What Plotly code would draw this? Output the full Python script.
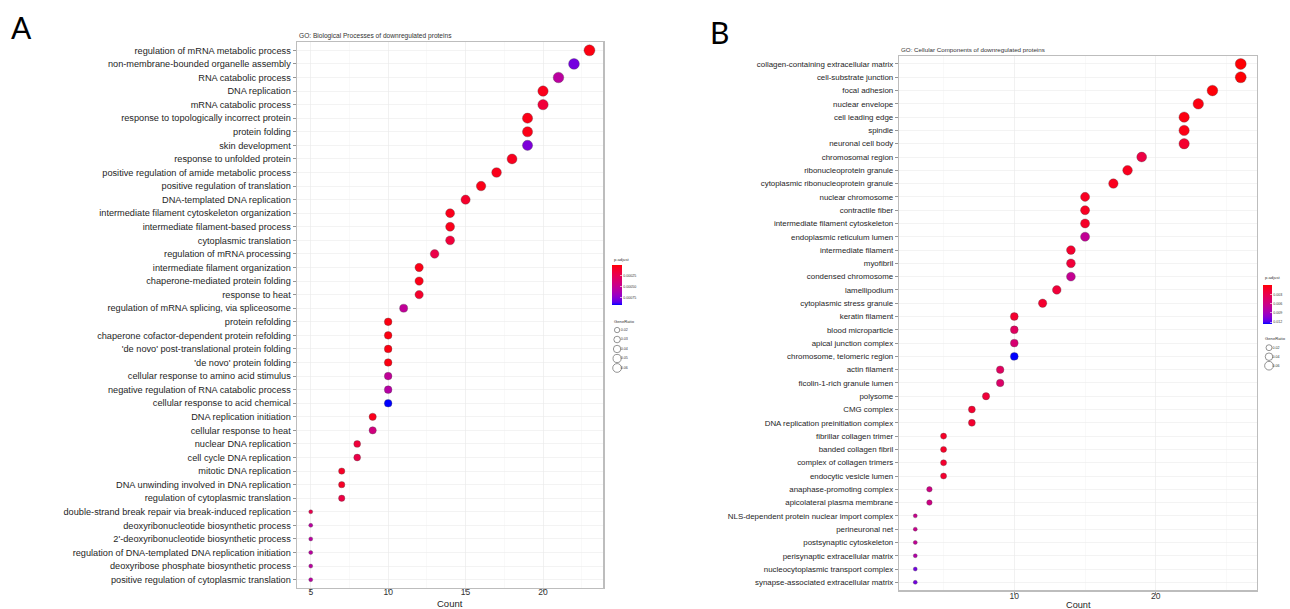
import numpy as np
import plotly.graph_objects as go

# ---------------- data ----------------
bp_terms = [
    "regulation of mRNA metabolic process", "non-membrane-bounded organelle assembly",
    "RNA catabolic process", "DNA replication", "mRNA catabolic process",
    "response to topologically incorrect protein", "protein folding", "skin development",
    "response to unfolded protein", "positive regulation of amide metabolic process",
    "positive regulation of translation", "DNA-templated DNA replication",
    "intermediate filament cytoskeleton organization", "intermediate filament-based process",
    "cytoplasmic translation", "regulation of mRNA processing",
    "intermediate filament organization", "chaperone-mediated protein folding",
    "response to heat", "regulation of mRNA splicing, via spliceosome", "protein refolding",
    "chaperone cofactor-dependent protein refolding", "'de novo' post-translational protein folding",
    "'de novo' protein folding", "cellular response to amino acid stimulus",
    "negative regulation of RNA catabolic process", "cellular response to acid chemical",
    "DNA replication initiation", "cellular response to heat", "nuclear DNA replication",
    "cell cycle DNA replication", "mitotic DNA replication",
    "DNA unwinding involved in DNA replication", "regulation of cytoplasmic translation",
    "double-strand break repair via break-induced replication",
    "deoxyribonucleotide biosynthetic process", "2'-deoxyribonucleotide biosynthetic process",
    "regulation of DNA-templated DNA replication initiation",
    "deoxyribose phosphate biosynthetic process", "positive regulation of cytoplasmic translation",
]
bp_count = [23, 22, 21, 20, 20, 19, 19, 19, 18, 17, 16, 15, 14, 14, 14, 13, 12, 12, 12, 11,
            10, 10, 10, 10, 10, 10, 10, 9, 9, 8, 8, 7, 7, 7, 5, 5, 5, 5, 5, 5]
bp_padj = [0.00003, 0.00080, 0.00055, 0.00005, 0.00015, 0.00004, 0.00004, 0.00078, 0.00006, 0.00005,
           0.00004, 0.00010, 0.00005, 0.00005, 0.00015, 0.00020, 0.00004, 0.00004, 0.00010, 0.00052,
           0.00003, 0.00003, 0.00003, 0.00003, 0.00052, 0.00057, 0.00092, 0.00005, 0.00042, 0.00015,
           0.00020, 0.00008, 0.00008, 0.00018, 0.00022, 0.00055, 0.00055, 0.00055, 0.00055, 0.00055]
bp_total = 380

cc_terms = [
    "collagen-containing extracellular matrix", "cell-substrate junction", "focal adhesion",
    "nuclear envelope", "cell leading edge", "spindle", "neuronal cell body", "chromosomal region",
    "ribonucleoprotein granule", "cytoplasmic ribonucleoprotein granule", "nuclear chromosome",
    "contractile fiber", "intermediate filament cytoskeleton", "endoplasmic reticulum lumen",
    "intermediate filament", "myofibril", "condensed chromosome", "lamellipodium",
    "cytoplasmic stress granule", "keratin filament", "blood microparticle",
    "apical junction complex", "chromosome, telomeric region", "actin filament",
    "ficolin-1-rich granule lumen", "polysome", "CMG complex",
    "DNA replication preinitiation complex", "fibrillar collagen trimer", "banded collagen fibril",
    "complex of collagen trimers", "endocytic vesicle lumen", "anaphase-promoting complex",
    "apicolateral plasma membrane", "NLS-dependent protein nuclear import complex",
    "perineuronal net", "postsynaptic cytoskeleton", "perisynaptic extracellular matrix",
    "nucleocytoplasmic transport complex", "synapse-associated extracellular matrix",
]
cc_count = [26, 26, 24, 23, 22, 22, 22, 19, 18, 17, 15, 15, 15, 15, 14, 14, 14, 13, 12, 10,
            10, 10, 10, 9, 9, 8, 7, 7, 5, 5, 5, 5, 4, 4, 3, 3, 3, 3, 3, 3]
cc_padj = [0.0001, 0.0001, 0.0002, 0.0004, 0.0004, 0.0005, 0.0015, 0.0025, 0.0008, 0.0008,
           0.0010, 0.0010, 0.0012, 0.0070, 0.0015, 0.0020, 0.0068, 0.0020, 0.0015, 0.0015,
           0.0040, 0.0050, 0.0126, 0.0040, 0.0045, 0.0020, 0.0015, 0.0015, 0.0012, 0.0012,
           0.0015, 0.0015, 0.0060, 0.0060, 0.0065, 0.0065, 0.0070, 0.0080, 0.0110, 0.0110]
cc_total = 420

bp_cbar_ticks = [0.00025, 0.00050, 0.00075]
bp_cbar_labels = ["0.00025", "0.00050", "0.00075"]
cc_cbar_ticks = [0.003, 0.006, 0.009, 0.012]
cc_cbar_labels = ["0.003", "0.006", "0.009", "0.012"]
bp_size_breaks = [0.02, 0.03, 0.04, 0.05, 0.06]
cc_size_breaks = [0.02, 0.04, 0.06]

# ---------------- helpers ----------------
W, H = 1290, 609


def px_x(p):
    return p / W


def px_y(p):
    return 1 - p / H


def srgb_to_lab(c):
    c = np.array(c, dtype=float) / 255.0
    lin = np.where(c <= 0.04045, c / 12.92, ((c + 0.055) / 1.055) ** 2.4)
    M = np.array([[0.4124, 0.3576, 0.1805], [0.2126, 0.7152, 0.0722], [0.0193, 0.1192, 0.9505]])
    xyz = M @ lin
    wp = np.array([0.95047, 1.0, 1.08883])
    t = xyz / wp
    f = np.where(t > (6 / 29) ** 3, np.cbrt(t), t / (3 * (6 / 29) ** 2) + 4 / 29)
    return np.array([116 * f[1] - 16, 500 * (f[0] - f[1]), 200 * (f[1] - f[2])])


def lab_to_srgb(lab):
    L, a, b = lab
    fy = (L + 16) / 116
    fx = fy + a / 500
    fz = fy - b / 200
    f = np.array([fx, fy, fz])
    t = np.where(f > 6 / 29, f ** 3, 3 * (6 / 29) ** 2 * (f - 4 / 29))
    xyz = t * np.array([0.95047, 1.0, 1.08883])
    Minv = np.array([[3.2406, -1.5372, -0.4986], [-0.9689, 1.8758, 0.0415], [0.0557, -0.2040, 1.0570]])
    lin = np.clip(Minv @ xyz, 0, 1)
    c = np.where(lin <= 0.0031308, 12.92 * lin, 1.055 * lin ** (1 / 2.4) - 0.055)
    c = np.clip(np.round(c * 255), 0, 255).astype(int)
    return "rgb(%d,%d,%d)" % tuple(c)


lab_blue = srgb_to_lab([0, 0, 255])
lab_red = srgb_to_lab([255, 0, 0])
colorscale = [[t, lab_to_srgb(lab_blue + (lab_red - lab_blue) * t)] for t in np.linspace(0, 1, 21)]


def dot_size(v, lo, hi, dmin=4.0, dmax=11.0):
    v = np.asarray(v, dtype=float)
    r = np.clip((v - lo) / (hi - lo), 0, 1)
    return dmin + (dmax - dmin) * np.sqrt(r)


fig = go.Figure()

FONT = "Liberation Sans"
TXT = "#1e1e1e"

panels = [
    dict(terms=bp_terms, count=bp_count, padj=bp_padj, total=bp_total, xa="x", ya="y",
         cax="coloraxis", breaks=bp_size_breaks, lxa="x3", lya="y3"),
    dict(terms=cc_terms, count=cc_count, padj=cc_padj, total=cc_total, xa="x2", ya="y2",
         cax="coloraxis2", breaks=cc_size_breaks, lxa="x4", lya="y4"),
]

for p in panels:
    ratio = np.array(p["count"]) / p["total"]
    lo, hi = ratio.min(), ratio.max()
    fig.add_trace(go.Scatter(
        x=p["count"], y=p["terms"], xaxis=p["xa"], yaxis=p["ya"], mode="markers",
        marker=dict(size=dot_size(ratio, lo, hi), color=[-v for v in p["padj"]], opacity=1,
                    coloraxis=p["cax"], line=dict(width=0.6, color="rgba(70,70,70,0.55)")),
        showlegend=False, cliponaxis=False, hoverinfo="skip",
    ))
    idx = list(range(len(p["breaks"])))
    fig.add_trace(go.Scatter(
        x=[0] * len(idx), y=idx, xaxis=p["lxa"], yaxis=p["lya"], mode="markers",
        marker=dict(symbol="circle-open", size=dot_size(p["breaks"], lo, hi) * 0.8, color="#666666",
                    opacity=1, line=dict(width=0.7)),
        showlegend=False, cliponaxis=False, hoverinfo="skip",
    ))
    fig.add_trace(go.Scatter(
        x=[0.6] * len(idx), y=idx, xaxis=p["lxa"], yaxis=p["lya"], mode="text",
        text=["%.2f" % b for b in p["breaks"]], textposition="middle right",
        textfont=dict(size=3.6, color="#333333", family=FONT),
        showlegend=False, cliponaxis=False, hoverinfo="skip",
    ))

axis_common = dict(showline=True, mirror=True, linecolor="#BDBDBD", linewidth=1.2,
                   showgrid=True, gridcolor="#EBEBEB", gridwidth=0.6, zeroline=False,
                   ticks="outside", ticklen=3, tickwidth=0.7, tickcolor="#666666")

fig.update_layout(
    xaxis=dict(domain=[px_x(296.8), px_x(603.4)], range=[4.1, 23.9], tickvals=[5, 10, 15, 20],
               tickfont=dict(size=8.5, color="#333333", family=FONT), ticklabelstandoff=-7,
               minor=dict(dtick=2.5, tick0=0, showgrid=True, gridcolor="#F3F3F3", gridwidth=0.5),
               anchor="y", **axis_common),
    yaxis=dict(domain=[px_y(587.8), px_y(42.2)], type="category", categoryorder="array",
               categoryarray=bp_terms, range=[39.6, -0.6],
               tickfont=dict(size=9.2, color=TXT, family=FONT), anchor="x", **axis_common),
    xaxis2=dict(domain=[px_x(899), px_x(1257)], range=[1.85, 27.15], tickvals=[10, 20],
                tickfont=dict(size=8.5, color="#333333", family=FONT), ticklabelstandoff=-6,
                minor=dict(dtick=5, tick0=0, showgrid=True, gridcolor="#F3F3F3", gridwidth=0.5),
                anchor="y2", **axis_common),
    yaxis2=dict(domain=[px_y(590.3), px_y(56)], type="category", categoryorder="array",
                categoryarray=cc_terms, range=[39.6, -0.6],
                tickfont=dict(size=7.9, color=TXT, family=FONT), anchor="x2", **axis_common),
    xaxis3=dict(domain=[px_x(612), px_x(648)], range=[-0.85, 5.15], visible=False, anchor="y3"),
    yaxis3=dict(domain=[px_y(372.7), px_y(325.3)], range=[4.5, -0.5], visible=False, anchor="x3"),
    xaxis4=dict(domain=[px_x(1263), px_x(1290)], range=[-1, 3.5], visible=False, anchor="y4"),
    yaxis4=dict(domain=[px_y(370.2), px_y(343.2)], range=[2.5, -0.5], visible=False, anchor="x4"),
)

fig.update_layout(
    coloraxis=dict(colorscale=colorscale, cmin=-max(bp_padj), cmax=0,
                   colorbar=dict(x=px_x(611.7), xanchor="left", y=px_y(265), yanchor="top",
                                 len=40, lenmode="pixels", thickness=10, thicknessmode="pixels",
                                 xpad=0, ypad=0, outlinewidth=0,
                                 tickvals=[-v for v in bp_cbar_ticks], ticktext=bp_cbar_labels,
                                 ticks="inside", ticklen=2, tickcolor="white", tickwidth=0.6,
                                 tickfont=dict(size=3.6, color="#333333", family=FONT))),
    coloraxis2=dict(colorscale=colorscale, cmin=-max(cc_padj), cmax=0,
                    colorbar=dict(x=px_x(1263.3), xanchor="left", y=px_y(285), yanchor="top",
                                  len=39, lenmode="pixels", thickness=8.5, thicknessmode="pixels",
                                  xpad=0, ypad=0, outlinewidth=0,
                                  tickvals=[-v for v in cc_cbar_ticks], ticktext=cc_cbar_labels,
                                  ticks="inside", ticklen=2, tickcolor="white", tickwidth=0.6,
                                  tickfont=dict(size=3.6, color="#333333", family=FONT))),
)


def ann(text, x, y, size, xanchor="left", color=TXT, family=FONT):
    return dict(text=text, x=px_x(x), y=px_y(y), xref="paper", yref="paper", showarrow=False,
                xanchor=xanchor, yanchor="middle", font=dict(size=size, color=color, family=family))


annotations = [
    ann("A", 9, 27, 30, family="Lato", color="black"),
    ann("B", 708, 32, 30, family="Lato", color="black"),
    ann("GO: Biological Processes of downregulated proteins", 296.5, 36, 6.6, color="#333333"),
    ann("GO: Cellular Components of downregulated proteins", 899, 49, 6.2, color="#333333"),
    ann("Count", 450, 603, 9.5, xanchor="center"),
    ann("Count", 1078, 605, 9.2, xanchor="center"),
    ann("p.adjust", 611.5, 259, 4.2, color="#333333"),
    ann("GeneRatio", 611.5, 321, 4.2, color="#333333"),
    ann("p.adjust", 1262.5, 277, 4.2, color="#333333"),
    ann("GeneRatio", 1262.5, 338, 4.2, color="#333333"),
]

fig.update_layout(
    width=W, height=H, autosize=False,
    margin=dict(l=0, r=0, t=0, b=0, pad=0),
    paper_bgcolor="white", plot_bgcolor="white",
    font=dict(family=FONT, color=TXT),
    annotations=annotations,
    showlegend=False,
    hovermode=False,
)

fig.write_html("out.html", config={"displayModeBar": False, "staticPlot": True},
               post_script="document.body.style.margin='0';document.body.style.overflow='hidden';")
